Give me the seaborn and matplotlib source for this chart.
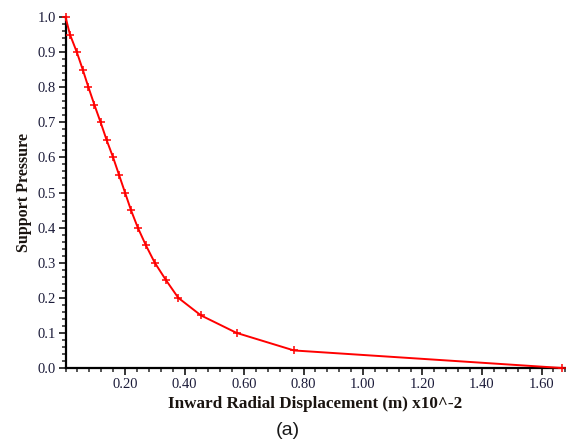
import numpy as np
import pandas as pd
import seaborn as sns
import matplotlib.pyplot as plt
from matplotlib.ticker import MultipleLocator, FormatStrFormatter

# displacement (x10^-2 m) vs support pressure
displacement = [0.0, 0.015, 0.038, 0.058, 0.077, 0.097, 0.118, 0.138, 0.16, 0.18,
                0.2, 0.22, 0.243, 0.27, 0.30, 0.338, 0.379, 0.455, 0.575, 0.768, 1.669]
pressure = [1.0, 0.95, 0.9, 0.85, 0.8, 0.75, 0.7, 0.65, 0.6, 0.55,
            0.5, 0.45, 0.4, 0.35, 0.3, 0.25, 0.2, 0.15, 0.1, 0.05, 0.0]

x_ticks = [0.20, 0.40, 0.60, 0.80, 1.00, 1.20, 1.40, 1.60]
y_ticks = [0.0, 0.1, 0.2, 0.3, 0.4, 0.5, 0.6, 0.7, 0.8, 0.9, 1.0]


def main():
    df = pd.DataFrame({'disp': displacement, 'pressure': pressure})

    sns.set_style("ticks")
    plt.rcParams['font.family'] = ['Liberation Serif', 'DejaVu Serif']

    fig = plt.figure(figsize=(5.66, 4.44), dpi=100)
    ax = fig.add_axes([65.5 / 566, 1 - 368 / 444, (565.3 - 65.5) / 566, (368 - 17) / 444])

    sns.lineplot(data=df, x='disp', y='pressure', ax=ax, color='#ff0000',
                 linewidth=1.4, marker='+', markersize=5.5, markeredgewidth=1.1,
                 markeredgecolor='#ff0000', estimator=None, sort=False, clip_on=False,
                 zorder=5)

    ax.set_xlim(0, 1.68)
    ax.set_ylim(0, 1.0)
    ax.set_xticks(x_ticks)
    ax.set_yticks(y_ticks)
    ax.xaxis.set_major_formatter(FormatStrFormatter('%.2f'))
    ax.yaxis.set_major_formatter(FormatStrFormatter('%.1f'))
    ax.xaxis.set_minor_locator(MultipleLocator(0.04))
    ax.yaxis.set_minor_locator(MultipleLocator(0.02))

    for side in ['top', 'right']:
        ax.spines[side].set_visible(False)
    for side in ['left', 'bottom']:
        ax.spines[side].set_linewidth(1.6)
        ax.spines[side].set_color('black')

    ax.tick_params(which='major', length=5, width=1.3, labelsize=10.5,
                   labelcolor='#1c1c3a', pad=2)
    ax.tick_params(which='minor', length=3, width=1.1)

    ax.set_xlabel('Inward Radial Displacement (m) x10^-2', fontsize=12.3,
                  fontweight='bold', color='#1a1410', labelpad=4)
    ax.set_ylabel('Support Pressure', fontsize=11.5, fontweight='bold',
                  color='#1a1410', labelpad=4)

    fig.text(288 / 566, 1 - 430 / 444, '(a)', ha='center', va='center',
             fontsize=14, family=['Liberation Sans', 'DejaVu Sans'], color='#1a1a1a')

    fig.savefig('out.png', dpi=100, facecolor='white')


if __name__ == "__main__":
    main()
